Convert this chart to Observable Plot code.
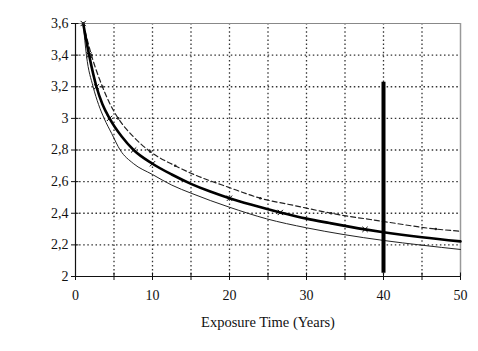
<!DOCTYPE html>
<html><head><meta charset="utf-8">
<script src="https://cdn.jsdelivr.net/npm/d3@7"></script>
<script src="https://cdn.jsdelivr.net/npm/@observablehq/plot@0.6"></script>
<style>body{margin:0;background:#fff}</style>
</head><body><div id="chart"></div>
<script>
// Data
const xTicks = [0,5,10,15,20,25,30,35,40,45,50];
const xTickLabels = ["0","","10","","20","","30","","40","","50"];
const yTicks = [2,2.2,2.4,2.6,2.8,3,3.2,3.4,3.6];
const yTickLabels = ["2","2,2","2,4","2,6","2,8","3","3,2","3,4","3,6"];

const thickX = [1.0,1.77,2.72,3.5,4.42,6.0,7.55,10,12.5,15,17.5,20,23,26.6,30,33,37.6,40,45,50];
const thickY = [3.6,3.4,3.2,3.09,3.0,2.885,2.8,2.713,2.645,2.586,2.537,2.495,2.452,2.405,2.366,2.338,2.298,2.28,2.248,2.222];
const thickMarkX = [1.0,1.77,2.72,4.42,7.55,10,20,26.6,37.6];

const thinX = [1.0,1.42,2.29,3.0,3.72,4.7,5.8,7.5,10,12.5,15,20,24.8,30,34.75,40,45,50];
const thinY = [3.6,3.4,3.2,3.087,3.0,2.904,2.8,2.715,2.645,2.578,2.527,2.438,2.365,2.308,2.266,2.228,2.198,2.171];

const dashX = [1.0,2.07,3.5,4.4,5.55,7.5,9.7,12.95,15,20,24,28.5,33.2,40,46.8,50];
const dashY = [3.6,3.4,3.2,3.099,3.0,2.885,2.79,2.70,2.653,2.562,2.495,2.448,2.40,2.348,2.30,2.286];
const dashMarkX = [1.0,2.07,3.5,5.55,9.7,12.95,24,33.2,46.8];

const barX = [40];
const barY1 = [2.02];
const barY2 = [3.229];

const thick = thickX.map((x,i)=>({x, y: thickY[i]}));
const thin = thinX.map((x,i)=>({x, y: thinY[i]}));
const dash = dashX.map((x,i)=>({x, y: dashY[i]}));
const interp = (xs, ys, x) => { for (let i=1;i<xs.length;i++){ if (x<=xs[i]) { const t=(x-xs[i-1])/(xs[i]-xs[i-1]); return ys[i-1]+t*(ys[i]-ys[i-1]); } } return ys[ys.length-1]; };
const thickMarks = thickMarkX.map(x=>({x, y: interp(thickX, thickY, x)}));
const dashMarks = dashMarkX.map(x=>({x, y: interp(dashX, dashY, x)}));

const chart = Plot.plot({
  width: 478, height: 351,
  marginLeft: 75, marginRight: 18, marginTop: 23, marginBottom: 75,
  x: {domain: [0, 50]},
  y: {domain: [2, 3.6]},
  style: {fontFamily: "'Liberation Serif', serif", fontSize: "14px", background: "#fff", color: "#111"},
  marks: [
    Plot.ruleX(xTicks.filter(d => d > 0 && d < 50), {stroke: "#333", strokeWidth: 1.3, strokeDasharray: "1.5,2.6"}),
    Plot.ruleY(yTicks.filter(d => d > 2 && d < 3.6), {stroke: "#333", strokeWidth: 1.3, strokeDasharray: "1.5,2.6"}),
    Plot.ruleY([3.6], {stroke: "#888", strokeWidth: 1.2}),
    Plot.ruleX([50], {stroke: "#999", strokeWidth: 1.5}),
    Plot.ruleX(xTicks, {y1: 2, y2: 2.022, stroke: "#111"}),
    Plot.ruleY(yTicks, {x1: 0, x2: 0.45, stroke: "#111"}),
    Plot.line(thin, {x: "x", y: "y", stroke: "#222", strokeWidth: 1, curve: "monotone-x"}),
    Plot.line(dash, {x: "x", y: "y", stroke: "#222", strokeWidth: 1.2, strokeDasharray: "5,3", curve: "monotone-x"}),
    Plot.line(thick, {x: "x", y: "y", stroke: "#000", strokeWidth: 2.6, curve: "monotone-x"}),
    Plot.dot(thickMarks, {x: "x", y: "y", symbol: "times", r: 2.5, stroke: "#000", strokeWidth: 1}),
    Plot.dot(dashMarks, {x: "x", y: "y", r: 1.3, fill: "#222"}),
    Plot.ruleX(barX.map((x,i)=>({x, y1: barY1[i], y2: barY2[i]})), {x: "x", y1: "y1", y2: "y2", stroke: "#000", strokeWidth: 4}),
    Plot.ruleX([0], {stroke: "#111", strokeWidth: 1.2}),
    Plot.ruleY([2], {stroke: "#111", strokeWidth: 1.2}),
    Plot.axisY({ticks: yTicks, tickFormat: (d, i) => yTickLabels[i], tickSize: 4, tickPadding: 3, label: null, stroke: "#111"}),
    Plot.axisX({ticks: xTicks, tickFormat: (d, i) => xTickLabels[i], tickSize: 4, tickPadding: 10, label: "Exposure Time (Years)", labelAnchor: "center", labelArrow: "none", labelOffset: 50, stroke: "#111"})
  ]
});
chart.querySelectorAll("[aria-label='x-axis label'] text, [aria-label='x-axis label']").forEach(e => e.style.fontSize = "14.5px");
document.getElementById("chart").append(chart);
</script>
</body></html>
